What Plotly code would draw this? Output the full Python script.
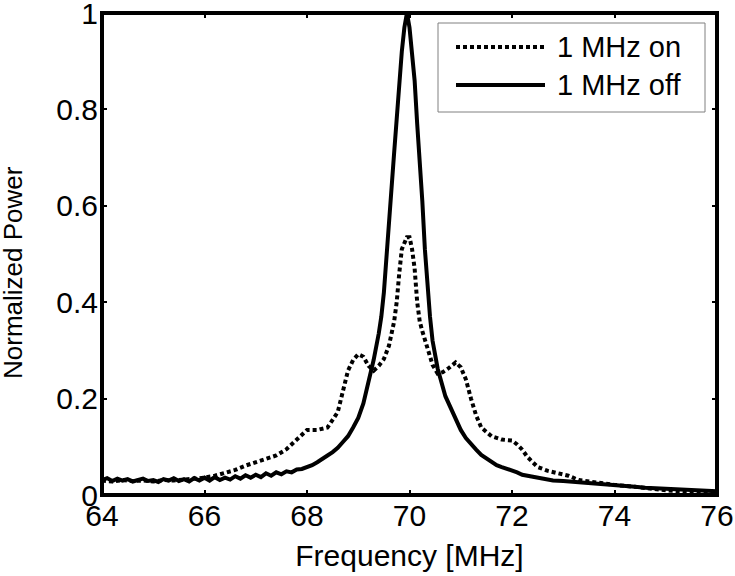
import plotly.graph_objects as go

# ---- data ----
freq_off = [64.0, 64.1, 64.2, 64.3, 64.4, 64.5, 64.6, 64.7, 64.8, 64.9,
            65.0, 65.1, 65.2, 65.3, 65.4, 65.5, 65.6, 65.7, 65.8, 65.9,
            66.0, 66.1, 66.2, 66.3, 66.4, 66.5, 66.6, 66.7, 66.8, 66.9,
            67.0, 67.1, 67.2, 67.3, 67.4, 67.5, 67.6, 67.7, 67.8, 67.9,
            68.0, 68.1, 68.2, 68.3, 68.4, 68.5, 68.6, 68.7, 68.8, 68.9,
            69.0, 69.1, 69.2, 69.3, 69.4, 69.45, 69.5, 69.55, 69.6, 69.65,
            69.7, 69.75, 69.8, 69.85, 69.9, 69.95, 70.0, 70.05, 70.1, 70.15,
            70.2, 70.25, 70.3, 70.35, 70.4, 70.45, 70.55, 70.7, 70.8, 70.9,
            71.0, 71.1, 71.2, 71.3, 71.4, 71.5, 71.6, 71.7, 71.8, 71.9,
            72.0, 72.1, 72.2, 72.3, 72.4, 72.5, 72.6, 72.7, 72.8, 73.0,
            73.2, 73.4, 73.6, 73.8, 74.0, 74.2, 74.4, 74.6, 74.8, 75.0,
            75.2, 75.4, 75.6, 75.8, 76.0]
power_off = [0.031, 0.035, 0.029, 0.034, 0.030, 0.033, 0.028, 0.032, 0.034, 0.029,
             0.031, 0.027, 0.033, 0.030, 0.035, 0.029, 0.033, 0.028, 0.035, 0.030,
             0.036, 0.030, 0.037, 0.031, 0.036, 0.032, 0.039, 0.034, 0.041, 0.036,
             0.042, 0.037, 0.045, 0.040, 0.047, 0.043, 0.049, 0.047, 0.053, 0.054,
             0.057, 0.062, 0.068, 0.074, 0.082, 0.089, 0.098, 0.110, 0.122, 0.140,
             0.160, 0.190, 0.235, 0.280, 0.335, 0.370, 0.420, 0.500, 0.570, 0.640,
             0.710, 0.780, 0.860, 0.920, 0.970, 1.000, 0.970, 0.920, 0.860, 0.770,
             0.700, 0.610, 0.510, 0.430, 0.370, 0.320, 0.262, 0.205, 0.180, 0.155,
             0.135, 0.118, 0.105, 0.094, 0.083, 0.076, 0.069, 0.062, 0.058, 0.055,
             0.052, 0.047, 0.042, 0.040, 0.037, 0.035, 0.033, 0.031, 0.030, 0.029,
             0.027, 0.025, 0.023, 0.022, 0.020, 0.019, 0.017, 0.015, 0.014, 0.013,
             0.011, 0.010, 0.009, 0.008, 0.008]

freq_on = [64.0, 64.2, 64.4, 64.6, 64.8, 65.0, 65.2, 65.4, 65.6, 65.8,
           66.0, 66.2, 66.4, 66.6, 66.8, 67.0, 67.2, 67.4, 67.6, 67.8,
           68.0, 68.2, 68.4, 68.6, 68.7, 68.8, 68.9, 69.0, 69.1, 69.2,
           69.3, 69.4, 69.5, 69.6, 69.7, 69.75, 69.8, 69.85, 69.95, 70.0,
           70.05, 70.1, 70.15, 70.2, 70.25, 70.35, 70.45, 70.55, 70.65, 70.75,
           70.9, 71.0, 71.1, 71.2, 71.3, 71.4, 71.5, 71.6, 71.8, 72.0,
           72.1, 72.2, 72.3, 72.5, 72.7, 72.9, 73.1, 73.3, 73.5, 73.7,
           74.0, 74.4, 74.8, 75.0, 75.4, 75.7, 76.0]
power_on = [0.030, 0.028, 0.031, 0.029, 0.030, 0.028, 0.031, 0.030, 0.032, 0.033,
            0.036, 0.040, 0.045, 0.052, 0.061, 0.068, 0.075, 0.082, 0.095, 0.115,
            0.135, 0.135, 0.140, 0.172, 0.215, 0.258, 0.280, 0.292, 0.287, 0.268,
            0.258, 0.268, 0.282, 0.310, 0.360, 0.400, 0.460, 0.510, 0.535, 0.535,
            0.510, 0.470, 0.400, 0.360, 0.340, 0.305, 0.270, 0.252, 0.255, 0.262,
            0.275, 0.265, 0.240, 0.200, 0.165, 0.140, 0.130, 0.122, 0.115, 0.113,
            0.105, 0.094, 0.079, 0.058, 0.050, 0.045, 0.040, 0.031, 0.028, 0.024,
            0.021, 0.017, 0.012, 0.010, 0.007, 0.005, 0.005]

x_ticks = [64, 66, 68, 70, 72, 74, 76]
y_ticks = [0, 0.2, 0.4, 0.6, 0.8, 1]
y_tick_labels = ["0", "0.2", "0.4", "0.6", "0.8", "1"]
name_on = "1 MHz on"
name_off = "1 MHz off"

FONT = "Liberation Sans, Arial, sans-serif"
DOT = "4px,3px"

fig = go.Figure()
fig.add_trace(go.Scatter(x=freq_on, y=power_on, mode="lines", name=name_on,
                         line=dict(color="black", width=4, dash=DOT), showlegend=False))
fig.add_trace(go.Scatter(x=freq_off, y=power_off, mode="lines", name=name_off,
                         line=dict(color="black", width=4), showlegend=False))

L, R, T, B = 102, 18, 13, 81
W, H = 735, 576
pw, ph = W - L - R, H - T - B

def px(xp):
    return (xp - L) / pw

def py(yp):
    return (H - B - yp) / ph

# plot frame
fig.add_shape(type="rect", xref="paper", yref="paper", x0=0, x1=1, y0=0, y1=1,
              line=dict(color="black", width=4), layer="above")

# legend box + samples
fig.add_shape(type="rect", xref="paper", yref="paper", x0=px(438), x1=px(705),
              y0=py(112), y1=py(23), line=dict(color="#808080", width=1),
              fillcolor="white", layer="above")
fig.add_shape(type="line", xref="paper", yref="paper", x0=px(456), x1=px(545),
              y0=py(47), y1=py(47), line=dict(color="black", width=4, dash=DOT), layer="above")
fig.add_shape(type="line", xref="paper", yref="paper", x0=px(456), x1=px(545),
              y0=py(85), y1=py(85), line=dict(color="black", width=4), layer="above")
fig.add_annotation(x=px(555), y=py(47), xref="paper", yref="paper", text=name_on,
                   showarrow=False, xanchor="left", yanchor="middle",
                   font=dict(family=FONT, size=29, color="black"))
fig.add_annotation(x=px(555), y=py(85), xref="paper", yref="paper", text=name_off,
                   showarrow=False, xanchor="left", yanchor="middle",
                   font=dict(family=FONT, size=29, color="black"))

# y title
fig.add_annotation(x=px(13), y=py(273), xref="paper", yref="paper", text="Normalized Power",
                   showarrow=False, textangle=-90, xanchor="center", yanchor="middle",
                   font=dict(family=FONT, size=26, color="black"))

fig.update_xaxes(range=[64, 76], tickvals=x_ticks, ticks="inside", ticklen=5, tickwidth=2,
                 tickcolor="black", mirror="ticks", showline=False, showgrid=False,
                 zeroline=False, ticklabeloverflow="allow",
                 tickfont=dict(family=FONT, size=30, color="black"),
                 title=dict(text="Frequency [MHz]", font=dict(family=FONT, size=30, color="black"),
                            standoff=13))
fig.update_yaxes(range=[0, 1], tickvals=y_ticks, ticktext=y_tick_labels, ticks="inside",
                 ticklen=5, tickwidth=2, tickcolor="black", mirror="ticks", showline=False,
                 showgrid=False, zeroline=False, ticklabeloverflow="allow",
                 ticklabelstandoff=3,
                 tickfont=dict(family=FONT, size=30, color="black"))

fig.update_layout(width=W, height=H, margin=dict(l=L, r=R, t=T, b=B, autoexpand=False),
                  plot_bgcolor="white", paper_bgcolor="white", showlegend=False)

fig.write_html("out.html", config={"displayModeBar": False},
               post_script="document.body.style.margin='0';document.body.style.padding='0';")
